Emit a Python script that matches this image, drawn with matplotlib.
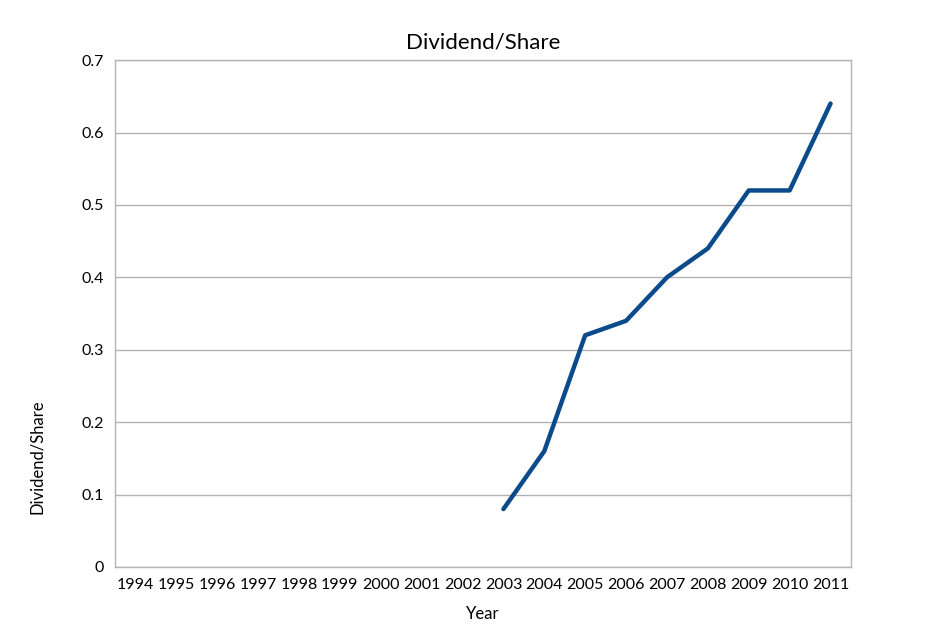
import matplotlib
matplotlib.use("Agg")
import matplotlib.pyplot as plt

plt.rcParams['font.family'] = ['Lato', 'DejaVu Sans']

# data
years = [str(y) for y in range(1994, 2012)]
data_years = ['2003', '2004', '2005', '2006', '2007', '2008', '2009', '2010', '2011']
dividend = [0.08, 0.16, 0.32, 0.34, 0.40, 0.44, 0.52, 0.52, 0.64]

fig = plt.figure(figsize=(9.4, 6.36), dpi=100)
ax = fig.add_axes([0.1223, 0.1085, 0.783, 0.797])

xpos = [years.index(y) for y in data_years]
ax.plot(xpos, dividend, color='#0B4A8B', linewidth=3.2,
        solid_capstyle='round', solid_joinstyle='round', zorder=3)

ax.set_xlim(-0.5, len(years) - 0.5)
ax.set_ylim(0, 0.7)
ax.set_xticks(range(len(years)))
ax.set_xticklabels(years)
yticks = [0, 0.1, 0.2, 0.3, 0.4, 0.5, 0.6, 0.7]
ax.set_yticks(yticks)
ax.set_yticklabels(['0'] + [f'{v:.1f}' for v in yticks[1:]])
ax.tick_params(length=0, labelsize=11.5, pad=8)
ax.grid(axis='y', color='#B3B3B3', linewidth=1)
ax.set_axisbelow(True)
for s in ax.spines.values():
    s.set_color('#B3B3B3')
    s.set_linewidth(1)

ax.set_title('Dividend/Share', fontsize=16, pad=8)
ax.set_xlabel('Year', fontsize=12, labelpad=10)
# Excel places the axis title off-centre, lower down
fig.text(37 / 940, 1 - 457 / 636, 'Dividend/Share', fontsize=12,
         rotation=90, ha='center', va='center')

fig.savefig('out.png', dpi=100)
